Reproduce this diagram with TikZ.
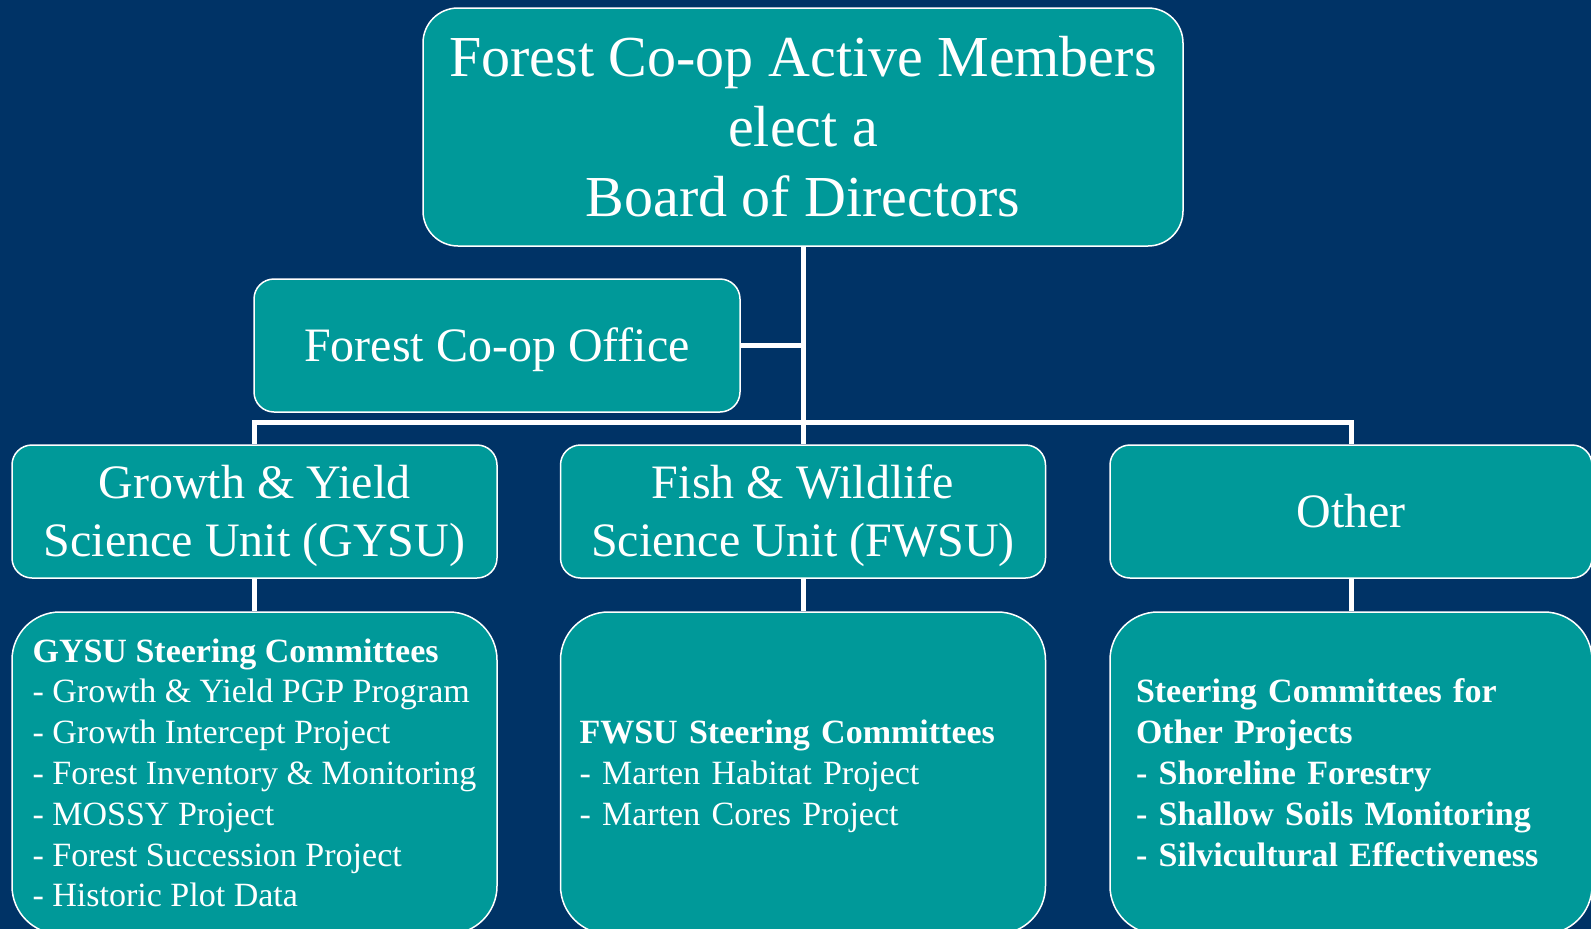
\documentclass[tikz,border=0pt]{standalone}
\usepackage{fontspec}
\setmainfont{Liberation Serif}

\definecolor{coopnavy}{RGB}{0,51,102}
\definecolor{coopteal}{RGB}{0,153,153}

% line struts (font ascent / descent)
\newcommand{\topln}{\rule{0pt}{0.891em}}
\newcommand{\botln}{\rule[-0.216em]{0pt}{0.216em}}

\tikzset{
  orgbox/.style={draw=white, line width=1.5pt, fill=coopteal, text=white,
    align=center, inner sep=4pt},
  unitbox/.style={orgbox, rounded corners=20pt, minimum width=485pt,
    minimum height=133pt, font=\fontsize{48}{57.6}\selectfont},
  combox/.style={orgbox, rounded corners=48pt, minimum width=485pt,
    minimum height=322pt, align=left, font=\fontsize{34}{40.8}\selectfont},
  link/.style={draw=white, line width=5pt}
}

\begin{document}
\begin{tikzpicture}[x=1pt, y=-1pt]

% Background
\useasboundingbox (0,0) rectangle (1591,929);
\fill[coopnavy] (0,0) rectangle (1591,929);

% Board and office
\node[orgbox, rounded corners=35pt, minimum width=760pt, minimum height=238pt,
  font=\fontsize{58}{70}\selectfont] (board) at (803,127)
  {\topln Forest Co-op Active Members\\elect a\\Board of Directors\botln};
\node[unitbox, minimum width=486pt] (office) at (497,345.5)
  {\topln Forest Co-op Office\botln};

% Science units
\node[unitbox] (gysu) at (254.5,511.5)
  {\topln Growth \& Yield\\Science Unit (GYSU)\botln};
\node[unitbox] (fwsu) at (803,511.5)
  {\topln Fish \& Wildlife\\Science Unit (FWSU)\botln};
\node[unitbox, minimum width=482pt] (other) at (1351,511.5) {\topln Other\botln};

% Steering committees
\node[combox] (gysucom) at (254.5,773)
  {\topln\textbf{GYSU Steering Committees}\\
   - Growth \& Yield PGP Program\\
   - Growth Intercept Project\\
   - Forest Inventory \& Monitoring\\
   - MOSSY Project\\
   - Forest Succession Project\\
   - Historic Plot Data\botln};
\node[combox, inner xsep=19pt, text width=447pt] (fwsucom) at (803,773)
  {\topln\textbf{FWSU Steering Committees}\\
   - Marten Habitat Project\\
   - Marten Cores Project\botln};
\node[combox, minimum width=482pt, inner xsep=26pt, text width=430pt,
  font=\fontsize{34}{40.8}\selectfont\bfseries] (othercom) at (1351,773)
  {\topln Steering Committees for\\
   Other Projects\\
   - Shoreline Forestry\\
   - Shallow Soils Monitoring\\
   - Silvicultural Effectiveness\botln};

% Connectors
\coordinate (bus) at (803,422);
\draw[link] (board.south) -- (fwsu.north);
\draw[link] (office.east) -- (office.east -| board.south);
\draw[link] (gysu.north) |- (bus) -| (other.north);
\draw[link] (gysu.south) -- (gysucom.north);
\draw[link] (fwsu.south) -- (fwsucom.north);
\draw[link] (other.south) -- (othercom.north);

\end{tikzpicture}
\end{document}
